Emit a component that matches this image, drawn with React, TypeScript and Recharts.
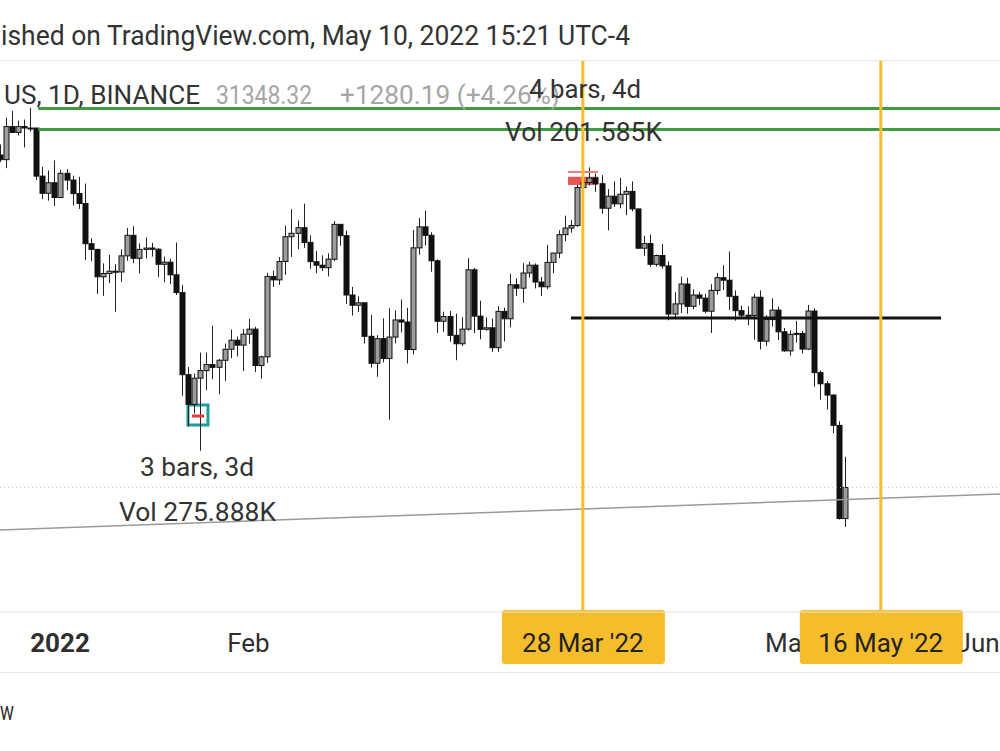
import React from 'react';
import {
  ComposedChart,
  Bar,
  XAxis,
  YAxis,
  ReferenceLine,
  ReferenceArea,
} from 'recharts';

// Daily candles, first one is 22 Dec 2021 (day -10, day 0 = 1 Jan 2022)
const FIRST_DAY = -10;

const opens = [
  48900, 48600, 50800, 50400, 50800, 50700, 50700, 47540, 46460, 47120,
  46200, 47720, 47290, 46440, 45830, 43430, 43100, 41550, 41730, 41860,
  41820, 42730, 43920, 42590, 43100, 43180, 43110, 42250, 42370, 41660,
  40680, 36450, 35030, 36280, 36650, 36950, 36810, 37160, 37710, 38170,
  37920, 38480, 38740, 36900, 37330, 41570, 41380, 42410, 43840, 44040,
  44370, 43510, 42400, 42200, 42060, 42540, 44570, 43900, 40550, 40000,
  40130, 38370, 37010, 38250, 37250, 38330, 39220, 39110, 37700, 43190,
  44420, 43920, 42450, 39150, 39400, 38420, 37990, 38740, 41940, 39420,
  38730, 38810, 37790, 39670, 39280, 41110, 40920, 41760, 42200, 41260,
  41000, 42360, 42890, 43960, 44350, 44500, 46820, 47130, 47430, 47060,
  45540, 46280, 45810, 46400, 46580, 45500, 43170, 43440, 42250, 42750,
  42160, 39530, 40070, 41150, 39940, 40550, 40380, 39680, 40800, 41500,
  41360, 40480, 39710, 39470, 39450, 40430, 38120, 39240, 39740, 38600,
  37630, 38470, 38520, 37720, 39690, 36550, 36010, 35470, 34060, 30068,
];
const highs = [
  49600, 51400, 51870, 51200, 51280, 52090, 50700, 48140, 47900, 48550,
  47950, 47990, 47570, 47500, 47070, 43750, 43140, 42300, 42790, 42250,
  43100, 44350, 44460, 43450, 43800, 43480, 43180, 42680, 42560, 43500,
  41100, 36830, 36500, 37550, 37540, 38920, 37230, 38000, 38720, 38360,
  38740, 39270, 38860, 37390, 41770, 41900, 42660, 44500, 45490, 44800,
  45820, 43920, 43000, 42760, 42880, 44770, 44580, 44200, 40990, 40480,
  40160, 39490, 38430, 39300, 39840, 39730, 40300, 39860, 44230, 44950,
  45400, 44100, 42530, 39660, 39690, 39550, 39360, 42600, 42040, 40240,
  39360, 39300, 39950, 39870, 41720, 41470, 42320, 42400, 42300, 41550,
  43360, 42900, 44220, 45090, 44820, 46990, 48190, 48100, 47700, 47600,
  46720, 47210, 47440, 46890, 47200, 45500, 43900, 43970, 42800, 43420,
  42410, 40700, 41560, 41500, 40850, 40710, 40600, 41140, 41760, 42200,
  42980, 40800, 39980, 39940, 40620, 40800, 39470, 40370, 39920, 38800,
  38680, 39170, 38650, 40020, 39840, 36650, 36140, 35510, 34250, 32660,
];
const lows = [
  48450, 48050, 50400, 50200, 49400, 50450, 47300, 46100, 46000, 45680,
  46200, 46650, 45700, 45500, 42500, 42430, 40610, 40500, 41200, 39650,
  41270, 42450, 42310, 41730, 42580, 42690, 41540, 41250, 41140, 40550,
  35440, 34010, 34600, 32920, 35700, 36230, 35510, 36150, 37260, 37350,
  36630, 38000, 36580, 36250, 37030, 40990, 41100, 41650, 42670, 43120,
  43190, 42000, 41750, 41870, 41570, 42430, 43310, 40070, 39450, 39640,
  38000, 36800, 36350, 37050, 34320, 38010, 38570, 37000, 37450, 42800,
  43330, 41830, 38550, 38600, 38090, 37160, 37870, 38660, 38540, 38220,
  38660, 37580, 37580, 38110, 38830, 40500, 40130, 41500, 40910, 40500,
  40870, 41750, 42600, 43580, 44070, 44420, 46660, 46950, 46550, 45200,
  44210, 45620, 45530, 45120, 45350, 43120, 42730, 42110, 42130, 42000,
  39200, 39250, 39590, 39550, 39770, 40010, 39560, 38540, 40570, 40820,
  39750, 39180, 39310, 38930, 38200, 37700, 37880, 38880, 38180, 37580,
  37390, 38050, 37500, 37670, 35860, 35260, 34790, 33710, 30030, 29730,
];
const closes = [
  48600, 50800, 50400, 50800, 50700, 50700, 47540, 46460, 47120, 46200,
  47720, 47290, 46440, 45830, 43430, 43100, 41550, 41730, 41860, 41820,
  42730, 43920, 42590, 43100, 43180, 43110, 42250, 42370, 41660, 40680,
  36450, 35030, 36280, 36650, 36950, 36810, 37160, 37710, 38170, 37920,
  38480, 38740, 36900, 37330, 41570, 41380, 42410, 43840, 44040, 44370,
  43510, 42400, 42200, 42060, 42540, 44570, 43900, 40550, 40000, 40130,
  38370, 37010, 38250, 37250, 38330, 39220, 39110, 37700, 43190, 44420,
  43920, 42450, 39150, 39400, 38420, 37990, 38740, 41940, 39420, 38730,
  38810, 37790, 39670, 39280, 41110, 40920, 41760, 42200, 41260, 41000,
  42360, 42890, 43960, 44350, 44500, 46820, 47130, 47430, 47060, 45540,
  46280, 45810, 46400, 46580, 45500, 43170, 43440, 42250, 42750, 42160,
  39530, 40070, 41150, 39940, 40550, 40380, 39680, 40800, 41500, 41360,
  40480, 39710, 39470, 39450, 40430, 38120, 39240, 39740, 38600, 37630,
  38470, 38520, 37720, 39690, 36550, 36010, 35470, 34060, 30068, 31348.32,
];

const tickDays = [0, 31, 90, 120, 151];
const tickLabels = ['2022', 'Feb', 'Apr', 'May', 'Jun'];

const greenLevels = [52050, 50600];
const supportLevel = 39320;
const lastPrice = 31348.32;
const trendFrom = 29611;
const trendTo = 31073;
const markerDays = [86, 135];
const markerLabels = ["28 Mar '22", "16 May '22"];

const X_DOMAIN: [number, number] = [-9.868, 154.605];
const Y_DOMAIN: [number, number] = [26535, 55530];
const CHART_W = 1000;

const FONT = 'Roboto, "Noto Sans", sans-serif';
const YELLOW = '#f5bd2c';
const TAG_HALF = 81;

const data = opens.map((o, i) => ({
  day: FIRST_DAY + i,
  open: o,
  high: highs[i],
  low: lows[i],
  close: closes[i],
  range: [lows[i], highs[i]],
}));

// pixel of a day on the x axis (plot spans the full chart width)
const dayPx = (d: number) =>
  ((d - X_DOMAIN[0]) / (X_DOMAIN[1] - X_DOMAIN[0])) * CHART_W;

const Candle = (props: any) => {
  const { x, y, width, height, payload } = props;
  if (!payload || x == null) return null;
  const top = Math.min(y, y + height);
  const bot = Math.max(y, y + height);
  const lh = Math.log(payload.high);
  const ll = Math.log(payload.low);
  const toY = (p: number) =>
    lh === ll ? top : top + ((lh - Math.log(p)) / (lh - ll)) * (bot - top);
  const cx = Math.round(x + width / 2) + 0.5;
  const up = payload.close >= payload.open;
  const yo = toY(payload.open);
  const yc = toY(payload.close);
  const bt = Math.min(yo, yc);
  const bh = Math.max(1, Math.abs(yo - yc));
  return (
    <g>
      <line x1={cx} x2={cx} y1={top} y2={bot} stroke="#222" strokeWidth={1} />
      <rect
        x={cx - 2.5}
        y={bt}
        width={5}
        height={bh}
        fill={up ? '#9c9c9c' : '#111'}
        stroke="#111"
        strokeWidth={1}
      />
    </g>
  );
};

// ticks hidden behind the yellow date tags, like in TradingView
const AxisTick = (props: any) => {
  const { x, y, payload } = props;
  const i = tickDays.indexOf(payload.value);
  const label = i >= 0 ? tickLabels[i] : '';
  let clipLeft = -50;
  let clipRight = CHART_W + 50;
  for (const d of markerDays) {
    const c = dayPx(d);
    const l = c - TAG_HALF;
    const r = c + TAG_HALF;
    if (x >= l && x <= r) return null;
    if (x < l && x + 30 > l) clipRight = Math.min(clipRight, l);
    if (x > r && x - 30 < r) clipLeft = Math.max(clipLeft, r);
  }
  const id = `tick-clip-${payload.value}`;
  return (
    <g>
      <defs>
        <clipPath id={id}>
          <rect x={clipLeft} y={y} width={clipRight - clipLeft} height={60} />
        </clipPath>
      </defs>
      <text
        x={x}
        y={y + 32}
        textAnchor="middle"
        fontFamily={FONT}
        fontSize={26}
        fontWeight={label === '2022' ? 700 : 400}
        fill="#2f2f2f"
        clipPath={`url(#${id})`}
      >
        {label}
      </text>
    </g>
  );
};

const dateTag = (text: string) => (props: any) => {
  const vb = props.viewBox || {};
  const cx = vb.x;
  const bottom = vb.y + vb.height;
  return (
    <g>
      <rect
        x={cx - TAG_HALF}
        y={bottom - 2}
        width={TAG_HALF * 2 + 1}
        height={54}
        rx={3}
        fill={YELLOW}
      />
      <text
        x={cx}
        y={bottom + 40}
        textAnchor="middle"
        fontFamily={FONT}
        fontSize={26}
        fill="#222"
      >
        {text}
      </text>
    </g>
  );
};

const Txt = ({ x, y, len, children, fill = '#333', size = 26 }: any) => (
  <text
    x={x}
    y={y}
    textLength={len}
    lengthAdjust="spacingAndGlyphs"
    fontFamily={FONT}
    fontSize={size}
    fill={fill}
  >
    {children}
  </text>
);

export default function App() {
  return (
    <div
      style={{
        position: 'absolute',
        left: 0,
        top: 0,
        width: 1000,
        height: 751,
        background: '#fff',
        overflow: 'hidden',
      }}
    >
      <ComposedChart
        width={CHART_W}
        height={751}
        data={data}
        margin={{ top: 60, right: 0, left: 0, bottom: 79 }}
      >
        <XAxis
          dataKey="day"
          type="number"
          domain={X_DOMAIN}
          allowDataOverflow
          ticks={tickDays}
          interval={0}
          tick={<AxisTick />}
          tickLine={false}
          axisLine={{ stroke: '#e2e2e2' }}
          height={60}
        />
        <YAxis hide scale="log" domain={Y_DOMAIN} allowDataOverflow />

        <ReferenceLine
          y={lastPrice}
          stroke="#c4c4c4"
          strokeDasharray="1 3"
          strokeWidth={1}
        />
        <ReferenceLine
          segment={[
            { x: X_DOMAIN[0], y: trendFrom },
            { x: X_DOMAIN[1], y: trendTo },
          ]}
          stroke="#9a9a9a"
          strokeWidth={1.5}
        />

        <Bar
          dataKey="range"
          barSize={5}
          shape={<Candle />}
          isAnimationActive={false}
        />

        {greenLevels.map((lv) => (
          <ReferenceLine
            key={lv}
            segment={[
              { x: -3.6, y: lv },
              { x: X_DOMAIN[1], y: lv },
            ]}
            stroke="#3f9a40"
            strokeWidth={3}
          />
        ))}
        <ReferenceLine
          segment={[
            { x: 84.05, y: supportLevel },
            { x: 144.9, y: supportLevel },
          ]}
          stroke="#111"
          strokeWidth={3}
        />

        <ReferenceArea
          x1={21.05}
          x2={24.34}
          y1={34077}
          y2={35001}
          stroke="#1f9c9c"
          strokeWidth={3}
          fill="#ffffff"
          fillOpacity={0.5}
          ifOverflow="visible"
        />
        <ReferenceLine
          segment={[
            { x: 21.7, y: 34490 },
            { x: 23.7, y: 34490 },
          ]}
          stroke="#e53935"
          strokeWidth={3}
        />
        <ReferenceArea
          x1={83.55}
          x2={88.49}
          y1={46981}
          y2={47500}
          fill="#e53935"
          fillOpacity={0.85}
          ifOverflow="visible"
        />
        <ReferenceLine
          segment={[
            { x: 83.55, y: 47805 },
            { x: 88.49, y: 47805 },
          ]}
          stroke="#ef7d7b"
          strokeWidth={2}
        />

        {markerDays.map((d, i) => (
          <ReferenceLine
            key={d}
            x={d}
            stroke={YELLOW}
            strokeWidth={3}
            label={dateTag(markerLabels[i])}
          />
        ))}
      </ComposedChart>

      <svg
        width={1000}
        height={751}
        style={{ position: 'absolute', left: 0, top: 0, pointerEvents: 'none' }}
      >
        <line x1={0} x2={1000} y1={60.5} y2={60.5} stroke="#e6e6e6" />
        <line x1={0} x2={1000} y1={672.5} y2={672.5} stroke="#e6e6e6" />
        <Txt x={1} y={45} len={629} size={27}>
          ished on TradingView.com, May 10, 2022 15:21 UTC-4
        </Txt>
        <Txt x={4} y={104} len={196}>US, 1D, BINANCE</Txt>
        <Txt x={216} y={104} len={96} fill="#a6a6a6">31348.32</Txt>
        <Txt x={340} y={104} len={220} fill="#a6a6a6">+1280.19 (+4.26%)</Txt>
        <Txt x={529} y={98} len={112}>4 bars, 4d</Txt>
        <Txt x={505} y={141} len={157}>Vol 201.585K</Txt>
        <Txt x={140} y={476} len={114}>3 bars, 3d</Txt>
        <Txt x={119} y={521} len={157}>Vol 275.888K</Txt>
        <Txt x={0} y={720} len={14}>w</Txt>
      </svg>
    </div>
  );
}
